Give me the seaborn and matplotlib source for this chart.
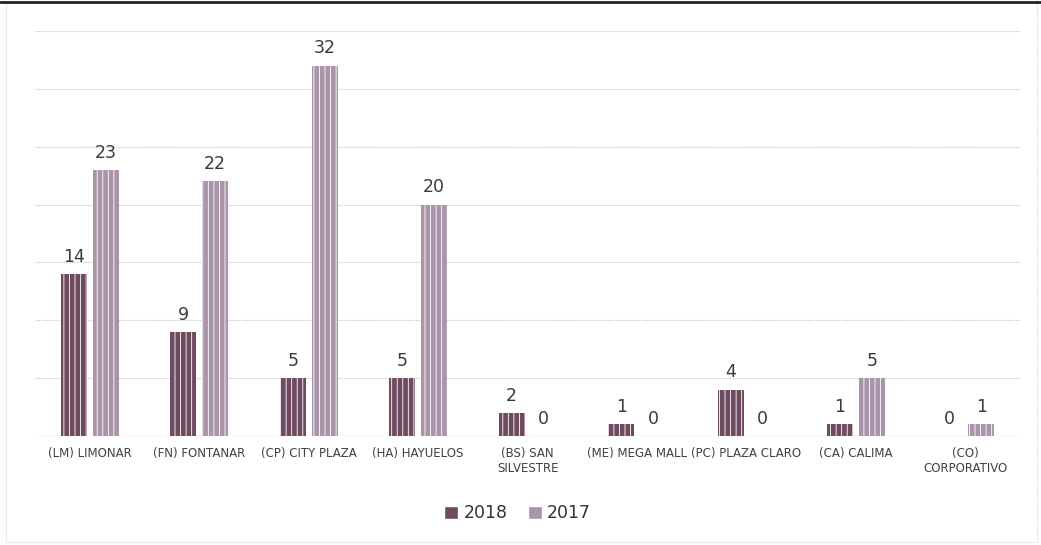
import matplotlib
matplotlib.use("Agg")
import matplotlib.pyplot as plt
import seaborn as sns
import pandas as pd
from matplotlib.patches import Rectangle

categories = ["(LM) LIMONAR", "(FN) FONTANAR", "(CP) CITY PLAZA", "(HA) HAYUELOS",
              "(BS) SAN\nSILVESTRE", "(ME) MEGA MALL", "(PC) PLAZA CLARO",
              "(CA) CALIMA", "(CO)\nCORPORATIVO"]
values_2018 = [14, 9, 5, 5, 2, 1, 4, 1, 0]
values_2017 = [23, 22, 32, 20, 0, 0, 0, 5, 1]
series = ["2018", "2017"]

df = pd.DataFrame({
    "cat": categories * 2,
    "year": [series[0]] * len(categories) + [series[1]] * len(categories),
    "val": values_2018 + values_2017,
})

sns.set_theme(style="white")
plt.rcParams['font.family'] = ['DejaVu Sans']
plt.rcParams['hatch.color'] = (1, 1, 1, 0.22)
plt.rcParams['hatch.linewidth'] = 0.6

fig = plt.figure(figsize=(10.41, 5.45), dpi=100)
ax = fig.add_axes([0.0336, 0.2, 0.9464, 0.743])

palette = {"2018": "#6f4b60", "2017": "#aa94aa"}
sns.barplot(data=df, x="cat", y="val", hue="year", palette=palette, order=categories,
            hue_order=series, width=0.58, gap=0.18, ax=ax, legend=True, saturation=1)

for cont in ax.containers:
    for p in cont:
        p.set_hatch("|||")
        p.set_linewidth(0)
    ax.bar_label(cont, padding=6, fontsize=12.5, color="#3a3a3a")

ax.set_ylim(0, 35)
ax.set_xlim(-0.5, len(categories) - 0.5)
ax.set_yticks(range(0, 36, 5))
ax.set_yticklabels([])
ax.tick_params(axis="y", length=0)
ax.yaxis.grid(True, color="#cfcfcf", linestyle=(0, (1.5, 1)), linewidth=0.8)
ax.set_axisbelow(True)
ax.set_xlabel("")
ax.set_ylabel("")
ax.tick_params(axis="x", length=0, labelsize=8.5, labelcolor="#404040", pad=8)
for s in ax.spines.values():
    s.set_visible(False)
ax.axhline(0, color="#bdbdbd", linewidth=0.9, linestyle=(0, (1.5, 1)), zorder=0.5)

leg = ax.legend(loc="upper center", bbox_to_anchor=(0.49, -0.13), ncol=2, frameon=False,
                fontsize=12.5, handlelength=0.8, handleheight=0.8, handletextpad=0.3,
                columnspacing=1.2, labelcolor="#333333")

fig.patches.append(Rectangle((0.006, 0.005), 0.99, 0.99, transform=fig.transFigure,
                             fill=False, edgecolor="#d8d8d8", linewidth=0.8,
                             linestyle=(0, (1, 1))))
fig.add_artist(plt.Line2D([0, 1], [0.996, 0.996], transform=fig.transFigure,
                          color="#222222", linewidth=2))

fig.savefig("out.png", dpi=100)
